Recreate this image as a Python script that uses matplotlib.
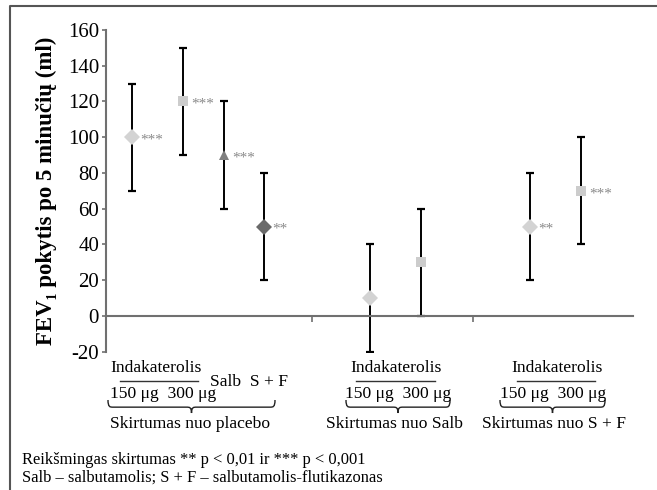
import numpy as np
import matplotlib
matplotlib.use('Agg')
import matplotlib.pyplot as plt
from matplotlib.path import Path
from matplotlib.patches import PathPatch

plt.rcParams['font.family'] = ['Liberation Serif', 'DejaVu Serif']
plt.rcParams['axes.unicode_minus'] = False

# data
x_pos = [0.65, 1.9, 2.92, 3.9, 6.5, 7.78, 10.45, 11.72]
means = [100, 120, 90, 50, 10, 30, 50, 70]
err = [30, 30, 30, 30, 30, 30, 30, 30]
markers = ['D', 's', '^', 'D', 'D', 's', 'D', 's']
colors = ['#d3d3d3', '#cccccc', '#7f7f7f', '#6a6a6a', '#d3d3d3', '#cccccc', '#d3d3d3', '#cccccc']
stars = ['***', '***', '***', '**', '', '', '**', '***']
sep_ticks = [5.08, 9.05]

W, H = 657, 490
fig = plt.figure('FEV1', figsize=(W/100, H/100), dpi=100)

def fx(px):
    return px / W

def fy(py):
    return 1 - py / H

ax = fig.add_axes([fx(106), fy(351.7), fx(633) - fx(106), fy(30) - fy(351.7)])

for x, m, e, mk, c, st in zip(x_pos, means, err, markers, colors, stars):
    ax.errorbar(x, m, yerr=e, fmt='none', ecolor='black', elinewidth=1.4, capsize=3, capthick=1.6, zorder=2)
    ms = 8 if mk == 'D' else 7
    ax.plot(x, m, marker=mk, color=c, markersize=ms, markeredgewidth=0, zorder=3)
    if st:
        ax.annotate(st, xy=(x, m), xytext=(6, -2), textcoords='offset points',
                    ha='left', va='center', fontsize=11, color='#8a8a8a')

ax.set_xlim(0, 13)
ax.set_ylim(-20, 160)
ax.set_yticks(np.arange(-20, 161, 20))
ax.set_xticks(sep_ticks)
ax.set_xticklabels(['', ''])
for s in ['top', 'right']:
    ax.spines[s].set_visible(False)
ax.spines['bottom'].set_position(('data', 0))
ax.spines['left'].set_color('#707070')
ax.spines['bottom'].set_color('#707070')
ax.spines['left'].set_linewidth(1.5)
ax.spines['bottom'].set_linewidth(1.5)
ax.tick_params(axis='y', direction='out', length=3, width=1.2, color='#707070', labelsize=15, pad=2)
ax.tick_params(axis='x', direction='out', length=4, width=1.2, color='#707070')
ax.set_ylabel('FEV\u2081 pokytis po 5 minučių (ml)', fontsize=16.5, fontweight='bold', labelpad=8)

# outer frame
fig.add_artist(plt.Line2D([fx(10), fx(10), 1], [0, fy(6), fy(6)], transform=fig.transFigure, color='#555555', lw=1.5))

def brace(x0, x1, ytop, h):
    xm = (x0 + x1) / 2
    ymid = ytop + h * 0.55
    ybot = ytop + h
    r = 5
    pts = [(x0, ytop), (x0, ymid), (x0 + 2, ymid), (x0 + r, ymid),
           (xm - r, ymid),
           (xm - 2, ymid), (xm, ymid), (xm, ybot),
           (xm, ymid), (xm + 2, ymid), (xm + r, ymid),
           (x1 - r, ymid),
           (x1 - 2, ymid), (x1, ymid), (x1, ytop)]
    codes = [Path.MOVETO, Path.CURVE4, Path.CURVE4, Path.CURVE4,
             Path.LINETO,
             Path.CURVE4, Path.CURVE4, Path.CURVE4,
             Path.CURVE4, Path.CURVE4, Path.CURVE4,
             Path.LINETO,
             Path.CURVE4, Path.CURVE4, Path.CURVE4]
    verts = [(fx(a), fy(b)) for a, b in pts]
    fig.add_artist(PathPatch(Path(verts, codes), transform=fig.transFigure,
                             fill=False, lw=1.0, edgecolor='#222222'))

def hline(x0, x1, y):
    fig.add_artist(plt.Line2D([fx(x0), fx(x1)], [fy(y), fy(y)], transform=fig.transFigure, color='#333333', lw=1.0))

fs = 12.6
# group 1
fig.text(fx(156), fy(368), 'Indakaterolis', ha='center', va='center', fontsize=fs)
hline(120, 198, 381)
fig.text(fx(210), fy(382), 'Salb  S + F', ha='left', va='center', fontsize=fs)
fig.text(fx(110), fy(394), '150 μg  300 μg', ha='left', va='center', fontsize=fs)
brace(108, 275, 400, 13)
fig.text(fx(190), fy(424), 'Skirtumas nuo placebo', ha='center', va='center', fontsize=fs)
# group 2
fig.text(fx(396), fy(368), 'Indakaterolis', ha='center', va='center', fontsize=fs)
hline(356, 435, 381)
fig.text(fx(398), fy(394), '150 μg  300 μg', ha='center', va='center', fontsize=fs)
brace(346, 450, 400, 13)
fig.text(fx(394), fy(424), 'Skirtumas nuo Salb', ha='center', va='center', fontsize=fs)
# group 3
fig.text(fx(557), fy(368), 'Indakaterolis', ha='center', va='center', fontsize=fs)
hline(517, 595, 381)
fig.text(fx(553), fy(394), '150 μg  300 μg', ha='center', va='center', fontsize=fs)
brace(500, 605, 400, 13)
fig.text(fx(554), fy(424), 'Skirtumas nuo S + F', ha='center', va='center', fontsize=fs)

# footnotes
fig.text(fx(22), fy(460), 'Reikšmingas skirtumas ** p < 0,01 ir *** p < 0,001', ha='left', va='center', fontsize=11.9)
fig.text(fx(22), fy(478), 'Salb – salbutamolis; S + F – salbutamolis-flutikazonas', ha='left', va='center', fontsize=11.9)

fig.savefig('out.png', dpi=100)
